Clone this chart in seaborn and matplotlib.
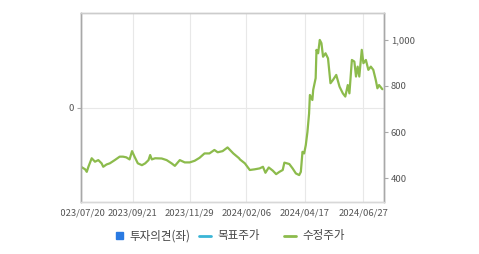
import matplotlib
matplotlib.use("Agg")
import matplotlib.pyplot as plt
import matplotlib.transforms as mtransforms
from matplotlib.patches import Patch
from matplotlib.lines import Line2D
import seaborn as sns
import pandas as pd

# ---- data ----
dates = [
    "2023-07-20", "2023-07-25", "2023-07-27", "2023-07-29", "2023-08-02", "2023-08-06",
    "2023-08-10", "2023-08-14", "2023-08-16", "2023-08-20", "2023-08-24", "2023-08-30",
    "2023-09-05", "2023-09-09", "2023-09-13", "2023-09-17", "2023-09-20", "2023-09-23",
    "2023-09-27", "2023-10-02", "2023-10-06", "2023-10-10", "2023-10-12", "2023-10-14",
    "2023-10-18", "2023-10-26", "2023-11-01", "2023-11-07", "2023-11-11", "2023-11-17",
    "2023-11-23", "2023-11-29", "2023-12-05", "2023-12-11", "2023-12-17", "2023-12-23",
    "2023-12-29", "2024-01-02", "2024-01-08", "2024-01-14", "2024-01-21", "2024-01-28",
    "2024-01-29", "2024-02-04", "2024-02-10", "2024-02-16", "2024-02-22", "2024-02-26",
    "2024-02-29", "2024-03-04", "2024-03-09", "2024-03-13", "2024-03-17", "2024-03-21",
    "2024-03-23", "2024-03-29", "2024-04-02", "2024-04-06", "2024-04-10", "2024-04-12",
    "2024-04-14", "2024-04-16", "2024-04-18", "2024-04-20", "2024-04-22", "2024-04-23",
    "2024-04-26", "2024-04-27", "2024-04-30", "2024-05-01", "2024-05-03", "2024-05-05",
    "2024-05-07", "2024-05-09", "2024-05-12", "2024-05-15", "2024-05-18", "2024-05-21",
    "2024-05-25", "2024-05-29", "2024-06-02", "2024-06-05", "2024-06-08", "2024-06-10",
    "2024-06-13", "2024-06-16", "2024-06-18", "2024-06-20", "2024-06-22", "2024-06-25",
    "2024-06-27", "2024-06-30", "2024-07-03", "2024-07-06", "2024-07-09", "2024-07-12",
    "2024-07-14", "2024-07-16", "2024-07-20",
]
adj_price = [
    449, 438, 427, 449, 486, 471,
    478, 464, 449, 459, 464, 478,
    493, 493, 490, 481, 517, 493,
    464, 456, 464, 478, 500, 481,
    486, 485, 478, 464, 453, 478,
    468, 468, 475, 488, 507, 507,
    522, 512, 517, 533, 507, 486,
    481, 464, 435, 438, 442, 449,
    423, 446, 432, 417, 427, 435,
    467, 461, 442, 420, 413, 427,
    514, 507, 543, 600, 680, 761,
    739, 783, 834, 957, 942, 1000,
    986, 927, 942, 920, 812, 826,
    848, 797, 768, 754, 804, 768,
    913, 906, 841, 884, 841, 957,
    899, 913, 870, 884, 870, 826,
    790, 804, 786,
]
x_tick_labels = ["2023/07/20", "2023/09/21", "2023/11/29", "2024/02/06", "2024/04/17", "2024/06/27"]
right_ticks = [400, 600, 800, 1000]
left_ticks = [0]
legend_labels = ["투자의견(좌)", "목표주가", "수정주가"]

df = pd.DataFrame({"date": pd.to_datetime(dates), "price": adj_price})

# ---- style ----
sns.set_style("white")
plt.rcParams["font.family"] = ["Noto Sans CJK KR", "DejaVu Sans"]

GREEN = "#8cbb4c"
CYAN = "#3ab5d6"
BLUE = "#2a7ae2"
SPINE = "#a8a8a8"
TXT = "#555555"

fig = plt.figure(figsize=(4.79, 2.54), dpi=100)
ax = fig.add_axes([81 / 479, 52 / 254, 303 / 479, 189 / 254])
ax.set_ylim(-1, 1)
ax.set_yticks(left_ticks)
ax.set_yticklabels([str(v) for v in left_ticks])
ax.grid(True, color="#e8e8e8", linewidth=0.8)

ax2 = ax.twinx()
sns.lineplot(data=df, x="date", y="price", ax=ax2, color=GREEN, linewidth=1.6)
ax2.set_ylim(296, 1117)
ax2.set_yticks(right_ticks)
ax2.set_yticklabels([f"{v:,}" for v in right_ticks])
ax2.set_xlabel("")
ax2.set_ylabel("")
ax2.grid(False)

xt = pd.to_datetime([s.replace("/", "-") for s in x_tick_labels])
ax.set_xlim(pd.Timestamp("2023-07-20"), pd.Timestamp("2024-07-22"))
ax.set_xticks(xt)
ax.set_xticklabels(x_tick_labels)

for a in (ax, ax2):
    for side in ("left", "right"):
        a.spines[side].set_color(SPINE)
        a.spines[side].set_linewidth(1.0)
    a.spines["bottom"].set_color("#d8d8d8")
    a.spines["bottom"].set_linewidth(1.0)
    a.spines["top"].set_color("#cccccc")
    a.spines["top"].set_linewidth(1.0)
    a.tick_params(axis="both", which="major", length=3, width=0.8, color=SPINE,
                  labelsize=6.8, labelcolor=TXT, pad=2)

# clip the first date label like the reference
first = ax.get_xticklabels()[0]
first.set_clip_on(True)
first.set_clip_box(mtransforms.Bbox.from_extents(61, 0, 479, 254))

handles = [
    Patch(facecolor=BLUE, edgecolor=BLUE),
    Line2D([0], [0], color=CYAN, linewidth=2),
    Line2D([0], [0], color=GREEN, linewidth=2),
]
starts = [116, 199, 284]
hlens = [0.62, 1.05, 1.05]
for h, lab, x0, hl in zip(handles, legend_labels, starts, hlens):
    fig.legend([h], [lab], loc="center left", bbox_to_anchor=(x0 / 479, 18 / 254),
               frameon=False, fontsize=8.3, handlelength=hl, handleheight=0.62,
               handletextpad=0.55, borderpad=0, borderaxespad=0, labelcolor="#444444")

fig.savefig("out.png", dpi=100)
